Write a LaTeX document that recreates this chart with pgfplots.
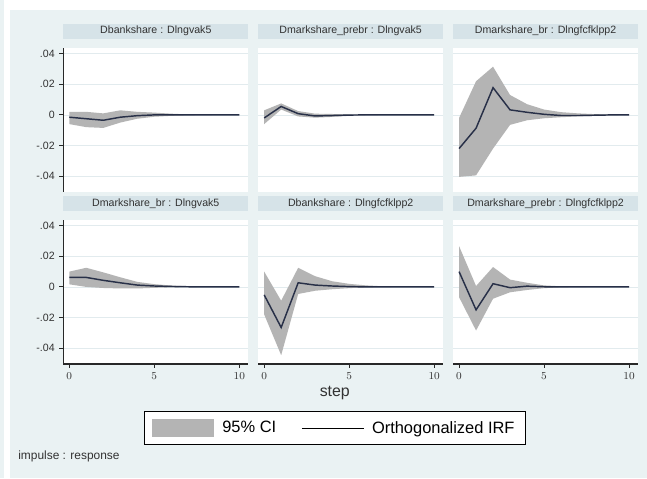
\documentclass[border=0pt]{standalone}
\usepackage{fontspec}
\setmainfont{Liberation Sans}
\usepackage{xcolor}
\usepackage{pgfplots}
\usepackage{pgfplotstable}
\pgfplotsset{compat=1.18}
\usepgfplotslibrary{fillbetween}

\definecolor{bgc}{RGB}{234,242,243}
\definecolor{hdr}{RGB}{214,227,232}
\definecolor{gridc}{RGB}{226,235,238}
\definecolor{cigray}{RGB}{180,180,180}
\definecolor{irfc}{RGB}{40,48,72}
\definecolor{axc}{RGB}{40,40,40}
\definecolor{txtc}{RGB}{50,50,50}

% step, IRF, lower and upper 95% bound
\pgfplotstableread{
step irf lo hi
0 -0.0015 -0.0060 0.0020
1 -0.0025 -0.0080 0.0020
2 -0.0035 -0.0085 0.0010
3 -0.0015 -0.0050 0.0030
4 -0.0005 -0.0025 0.0020
5 0 -0.0012 0.0015
6 0 -0.0006 0.0008
7 0 -0.0003 0.0003
8 0 -0.0001 0.0001
9 0 0 0
10 0 0 0
}\pa
\pgfplotstableread{
step irf lo hi
0 -0.0020 -0.0060 0.0030
1 0.0055 0.0035 0.0075
2 0.0008 -0.0010 0.0025
3 -0.0007 -0.0018 0.0008
4 -0.0004 -0.0013 0.0006
5 -0.0001 -0.0006 0.0003
6 0 -0.0002 0.0001
7 0 0 0
8 0 0 0
9 0 0 0
10 0 0 0
}\pb
\pgfplotstableread{
step irf lo hi
0 -0.0220 -0.0405 -0.0020
1 -0.0087 -0.0395 0.0220
2 0.0178 -0.0220 0.0315
3 0.0033 -0.0065 0.0130
4 0.0017 -0.0035 0.0070
5 0.0004 -0.0022 0.0035
6 -0.0004 -0.0015 0.0018
7 -0.0004 -0.0010 0.0010
8 -0.0002 -0.0006 0.0005
9 0 -0.0003 0.0002
10 0 -0.0001 0.0001
}\pc
\pgfplotstableread{
step irf lo hi
0 0.0063 0.0017 0.0100
1 0.0062 0.0000 0.0125
2 0.0043 -0.0007 0.0095
3 0.0027 -0.0010 0.0063
4 0.0012 -0.0010 0.0033
5 0.0006 -0.0006 0.0018
6 0.0003 -0.0003 0.0009
7 0.0001 -0.0001 0.0004
8 0 0 0.0002
9 0 0 0.0001
10 0 0 0
}\pd
\pgfplotstableread{
step irf lo hi
0 -0.0052 -0.0180 0.0100
1 -0.0265 -0.0446 -0.0090
2 0.0027 -0.0046 0.0125
3 0.0012 -0.0025 0.0070
4 0.0006 -0.0015 0.0037
5 0.0002 -0.0008 0.0020
6 0 -0.0003 0.0010
7 0 -0.0001 0.0004
8 0 0 0.0002
9 0 0 0.0001
10 0 0 0
}\pe
\pgfplotstableread{
step irf lo hi
0 0.0100 -0.0067 0.0267
1 -0.0150 -0.0285 0.0006
2 0.0021 -0.0077 0.0130
3 -0.0005 -0.0035 0.0048
4 0.0005 -0.0020 0.0027
5 0.0001 -0.0008 0.0010
6 0 -0.0003 0.0004
7 0 -0.0001 0.0001
8 0 0 0
9 0 0 0
10 0 0 0
}\pf

\pgfplotsset{
  irf/.style={
    scale only axis, width=139.5pt, height=108.75pt,
    xmin=-0.35, xmax=10.53, ymin=-0.0503, ymax=0.0439,
    ytick={-0.04,-0.02,0,0.02,0.04}, yticklabels={},
    scaled y ticks=false, scaled x ticks=false,
    xtick=\empty,
    ymajorgrids, grid style={color=gridc, line width=0.6pt},
    axis background/.style={fill=white},
    axis line style={draw=none},
    major tick style={draw=none},
    tick align=outside, major tick length=3pt,
    title style={at={(0.5,1)}, anchor=south, yshift=0.6pt, fill=hdr,
      minimum width=139.5pt, minimum height=11.25pt, inner sep=0pt,
      font=\fontsize{8}{9}\selectfont, text=txtc},
    ticklabel style={font=\fontsize{8}{9}\selectfont, text=txtc},
  },
  leftcol/.style={axis y line*=left, y axis line style={draw=axc, line width=1pt, -},
    ytick style={draw=axc, line width=0.8pt}, yticklabels={-.04,-.02,0,.02,.04}},
  botrow/.style={axis x line*=bottom, x axis line style={draw=axc, line width=1pt, -},
    xtick={0,5,10}, xtick style={draw=axc, line width=0.8pt}},
}

\newcommand{\irfplots}[1]{%
  \addplot[name path=hi, draw=none, forget plot] table[x=step, y=hi] {#1};
  \addplot[name path=lo, draw=none, forget plot] table[x=step, y=lo] {#1};
  \addplot[fill=cigray, draw=none, forget plot] fill between[of=hi and lo];
  \addplot[irfc, line width=1.1pt, forget plot] table[x=step, y=irf] {#1};
}

\begin{document}
\pagecolor{bgc}
\begin{tikzpicture}
% white margin at the top and left of the graph region
\fill[white] (0,353.25pt) rectangle (485.25pt,360.75pt);
\fill[white] (0,0) rectangle (4.5pt,360.75pt);

% top row
\begin{axis}[irf, leftcol, at={(45pt,216pt)}, anchor=south west,
  title={Dbankshare : Dlngvak5}]
\irfplots{\pa}
\end{axis}
\begin{axis}[irf, at={(192pt,216pt)}, anchor=south west,
  title={Dmarkshare\_prebr : Dlngvak5}]
\irfplots{\pb}
\end{axis}
\begin{axis}[irf, at={(339pt,216pt)}, anchor=south west,
  title={Dmarkshare\_br : Dlngfcfklpp2}]
\irfplots{\pc}
\end{axis}

% bottom row
\begin{axis}[irf, leftcol, botrow, at={(45pt,86.25pt)}, anchor=south west,
  title={Dmarkshare\_br : Dlngvak5}]
\irfplots{\pd}
\end{axis}
\begin{axis}[irf, botrow, at={(192pt,86.25pt)}, anchor=south west,
  title={Dbankshare : Dlngfcfklpp2},
  xlabel={step},
  xlabel style={at={(0.414,0)}, anchor=center, yshift=-21.75pt,
    font=\fontsize{12}{14}\selectfont, text=txtc},
  legend columns=2,
  legend cell align=left,
  legend style={at={(0.414,-0.445)}, anchor=center, draw=black,
    line width=0.75pt, fill=white, font=\fontsize{12.4}{14}\selectfont,
    inner xsep=6pt, inner ysep=5pt,
    /tikz/every odd column/.append style={column sep=4pt},
    /tikz/every even column/.append style={column sep=17pt}}]
\irfplots{\pe}
\addlegendimage{legend image code/.code={\fill[cigray] (0pt,-6.4pt) rectangle (46pt,6.4pt);}}
\addlegendentry{95\% CI}
\addlegendimage{legend image code/.code={\draw[black, line width=0.75pt] (0pt,0pt) -- (46.5pt,0pt);}}
\addlegendentry{Orthogonalized IRF}
\end{axis}
\begin{axis}[irf, botrow, at={(339pt,86.25pt)}, anchor=south west,
  title={Dmarkshare\_prebr : Dlngfcfklpp2}]
\irfplots{\pf}
\end{axis}

\node[anchor=west, font=\fontsize{9}{11}\selectfont, text=txtc] at (7.5pt,16.5pt) {impulse : response};

\pgfresetboundingbox
\useasboundingbox (0,0) rectangle (485.25pt,360.75pt);
\end{tikzpicture}
\end{document}
